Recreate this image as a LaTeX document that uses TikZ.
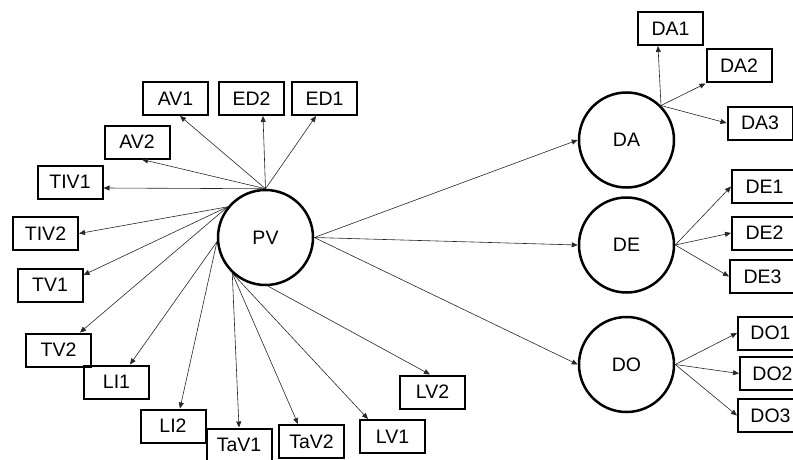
\documentclass[tikz,border=0pt]{standalone}
\usepackage{fontspec}
\setmainfont{Liberation Sans}
\usetikzlibrary{arrows.meta}

\tikzset{
  labelbox/.style={draw, line width=2pt, minimum width=65pt, minimum height=33pt,
    inner sep=0pt, font=\fontsize{19.5}{22}\selectfont},
  construct/.style={draw, circle, line width=2.5pt, minimum size=95pt, inner sep=0pt,
    font=\fontsize{19.5}{22}\selectfont},
  link/.style={draw=black!85, line width=0.6pt, -{Triangle[length=6pt,width=5pt]}}
}

\begin{document}
\begin{tikzpicture}[x=1pt, y=-1pt]
\useasboundingbox (0,0) rectangle (793,460);

% latent constructs
\node[construct] (PV) at (265.5,237.5) {PV};
\node[construct] (DA) at (626.5,140) {DA};
\node[construct] (DE) at (626.5,245) {DE};
\node[construct] (DO) at (626.5,364.5) {DO};

% indicators around PV
\node[labelbox] (AV1)  at (175.5,98.5) {AV1};
\node[labelbox] (ED2)  at (251.5,98.5) {ED2};
\node[labelbox] (ED1)  at (324.5,98.5) {ED1};
\node[labelbox] (AV2)  at (137,142)    {AV2};
\node[labelbox] (TIV1) at (70,182)     {TIV1};
\node[labelbox] (TIV2) at (45.5,233.5) {TIV2};
\node[labelbox] (TV1)  at (50,285)     {TV1};
\node[labelbox] (TV2)  at (58.5,350)   {TV2};
\node[labelbox] (LI1)  at (116.5,382)  {LI1};
\node[labelbox] (LI2)  at (173,426)    {LI2};
\node[labelbox] (TaV1) at (239,445)    {TaV1};
\node[labelbox] (TaV2) at (311.5,441.5){TaV2};
\node[labelbox] (LV1)  at (392.5,436.5){LV1};
\node[labelbox] (LV2)  at (432.5,392)  {LV2};

% indicators of DA, DE, DO
\node[labelbox] (DA1) at (670.5,28.5) {DA1};
\node[labelbox] (DA2) at (739,66)     {DA2};
\node[labelbox] (DA3) at (760,123)    {DA3};
\node[labelbox] (DE1) at (764.5,186.5){DE1};
\node[labelbox] (DE2) at (764.5,233)  {DE2};
\node[labelbox] (DE3) at (762.5,276.5){DE3};
\node[labelbox] (DO1) at (770.5,333)  {DO1};
\node[labelbox] (DO2) at (772.5,373.5){DO2};
\node[labelbox] (DO3) at (770.5,415.5){DO3};

% PV -> upper indicators
\draw[link] (PV.north) -- ([xshift=4.5pt]AV1.south);
\draw[link] (PV.north) -- ([xshift=11.5pt]ED2.south);
\draw[link] (PV.north) -- ([xshift=-8.5pt]ED1.south);
\draw[link] (PV.north) -- ([xshift=5pt]AV2.south);
\draw[link] (PV.north) -- ([yshift=-6pt]TIV1.east);

% PV -> left indicators
\draw[link] (PV.141) -- (TIV2.east);
\draw[link] (PV.141) -- ([yshift=10pt]TV1.east);
\draw[link] (PV.141) -- ([xshift=21.5pt]TV2.north);
\draw[link] (PV.185) -- ([xshift=13.5pt]LI1.north);
\draw[link] (PV.185) -- ([xshift=7pt]LI2.north);

% PV -> lower indicators
\draw[link] (PV.227) -- (TaV1.north);
\draw[link] (PV.227) -- ([xshift=-13.5pt]TaV2.north);
\draw[link] (PV.227) -- ([xshift=-24.5pt]LV1.north);
\draw[link] (PV.273) -- ([xshift=-2.5pt]LV2.north);

% PV -> constructs
\draw[link] (PV.east) -- (DA.west);
\draw[link] (PV.east) -- (DE.west);
\draw[link] (PV.east) -- (DO.west);

% constructs -> indicators
\draw[link] (DA.45) -- ([xshift=-12.5pt]DA1.south);
\draw[link] (DA.45) -- (DA2.south west);
\draw[link] (DA.45) -- (DA3.west);
\draw[link] (DE.east) -- (DE1.west);
\draw[link] (DE.east) -- (DE2.west);
\draw[link] (DE.east) -- (DE3.west);
\draw[link] (DO.east) -- (DO1.west);
\draw[link] (DO.east) -- (DO2.west);
\draw[link] (DO.east) -- (DO3.west);
\end{tikzpicture}
\end{document}
